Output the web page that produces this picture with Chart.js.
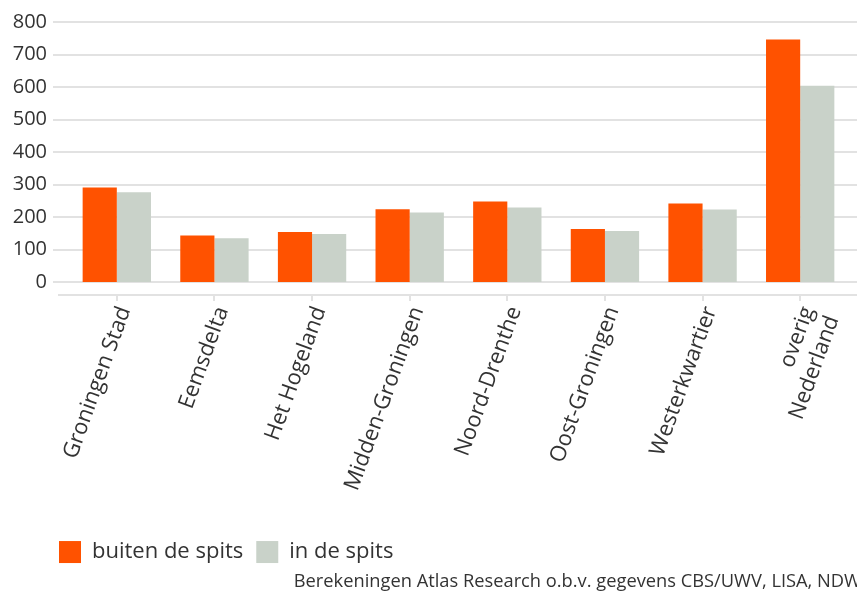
<!DOCTYPE html>
<html>
<head>
<meta charset="utf-8">
<script src="https://cdn.jsdelivr.net/npm/chart.js@4"></script>
<style>
  html, body { margin: 0; padding: 0; background: #fff; }
  #wrap { width: 857px; height: 591px; position: relative; }
</style>
</head>
<body>
<div id="wrap"><canvas id="regioChart"></canvas></div>
<script>
// data
const categories = ['Groningen Stad', 'Eemsdelta', 'Het Hogeland', 'Midden-Groningen',
    'Noord-Drenthe', 'Oost-Groningen', 'Westerkwartier', ['overig', 'Nederland']];
const buitenDeSpits = [291, 143, 154, 224, 248, 163, 242, 746];
const inDeSpits = [276, 135, 148, 214, 229, 157, 223, 604];
const yTicks = [0, 100, 200, 300, 400, 500, 600, 700, 800];
const bron = 'Berekeningen Atlas Research o.b.v. gegevens CBS/UWV, LISA, NDW';

const textColor = '#333333';
const gridColor = '#e2e2e2';

// horizontal grid lines run wider than the plot area, and the x axis line sits below zero
const fullGrid = {
    id: 'fullGrid',
    afterLayout(chart) {
        // legend starts a bit in from the left edge
        if (chart.legend) {
            chart.legend.left += 46;
            chart.legend.top += 4;
        }
        // source line runs off the right edge like in the original
        chart.boxes.forEach(function(box) {
            if (box.options && box.options.text === bron) {
                box.left += 12;
                box.right += 12;
                box.top += 2;
            }
        });
    },
    beforeDatasetsDraw(chart) {
        const { ctx, scales, chartArea } = chart;
        ctx.save();
        ctx.strokeStyle = gridColor;
        ctx.lineWidth = 2;
        yTicks.forEach(function(v) {
            const py = Math.round(scales.y.getPixelForValue(v));
            ctx.beginPath();
            ctx.moveTo(chartArea.left - 15, py);
            ctx.lineTo(chart.width, py);
            ctx.stroke();
        });
        ctx.beginPath();
        ctx.moveTo(chartArea.left - 10, chartArea.bottom);
        ctx.lineTo(chart.width, chartArea.bottom);
        ctx.stroke();
        ctx.restore();
    }
};

document.addEventListener('DOMContentLoaded', function() {
    const ctx = document.getElementById('regioChart');
    new Chart(ctx, {
        type: 'bar',
        data: {
            labels: categories,
            datasets: [{
                label: 'buiten de spits',
                data: buitenDeSpits,
                backgroundColor: '#ff5200'
            }, {
                label: 'in de spits',
                data: inDeSpits,
                backgroundColor: '#c9d2c9'
            }]
        },
        options: {
            responsive: true,
            maintainAspectRatio: false,
            animation: false,
            categoryPercentage: 0.7,
            barPercentage: 1,
            layout: {
                padding: { left: 0, right: 8, top: 22, bottom: 0 }
            },
            font: { family: "'Open Sans', sans-serif" },
            plugins: {
                legend: {
                    position: 'bottom',
                    align: 'start',
                    labels: {
                        color: textColor,
                        boxWidth: 22,
                        boxHeight: 22,
                        padding: 13,
                        font: { size: 22, family: "'Open Sans', sans-serif" }
                    }
                },
                subtitle: {
                    display: true,
                    text: bron,
                    position: 'bottom',
                    align: 'end',
                    color: textColor,
                    font: { size: 18.3, family: "'Open Sans', sans-serif" },
                    padding: { top: 0, bottom: 0 }
                },
                tooltip: { enabled: false }
            },
            scales: {
                y: {
                    min: -40,
                    max: 800,
                    afterBuildTicks: function(scale) {
                        scale.ticks = yTicks.map(function(v) { return { value: v }; });
                    },
                    afterFit: function(scale) {
                        scale.width = 68;
                    },
                    grid: { display: false, drawTicks: true, tickLength: 21 },
                    border: { display: false },
                    ticks: {
                        color: textColor,
                        padding: 0,
                        font: { size: 20, family: "'Open Sans', sans-serif" }
                    }
                },
                x: {
                    afterFit: function(scale) {
                        scale.height = 229;
                    },
                    grid: {
                        display: true,
                        drawOnChartArea: false,
                        drawTicks: true,
                        tickLength: 6,
                        offset: false,
                        color: gridColor,
                        lineWidth: 2
                    },
                    border: { display: false },
                    ticks: {
                        color: textColor,
                        maxRotation: 70,
                        minRotation: 70,
                        padding: 2,
                        labelOffset: 8,
                        font: { size: 22, family: "'Open Sans', sans-serif" }
                    }
                }
            }
        },
        plugins: [fullGrid]
    });
});
</script>
</body>
</html>
